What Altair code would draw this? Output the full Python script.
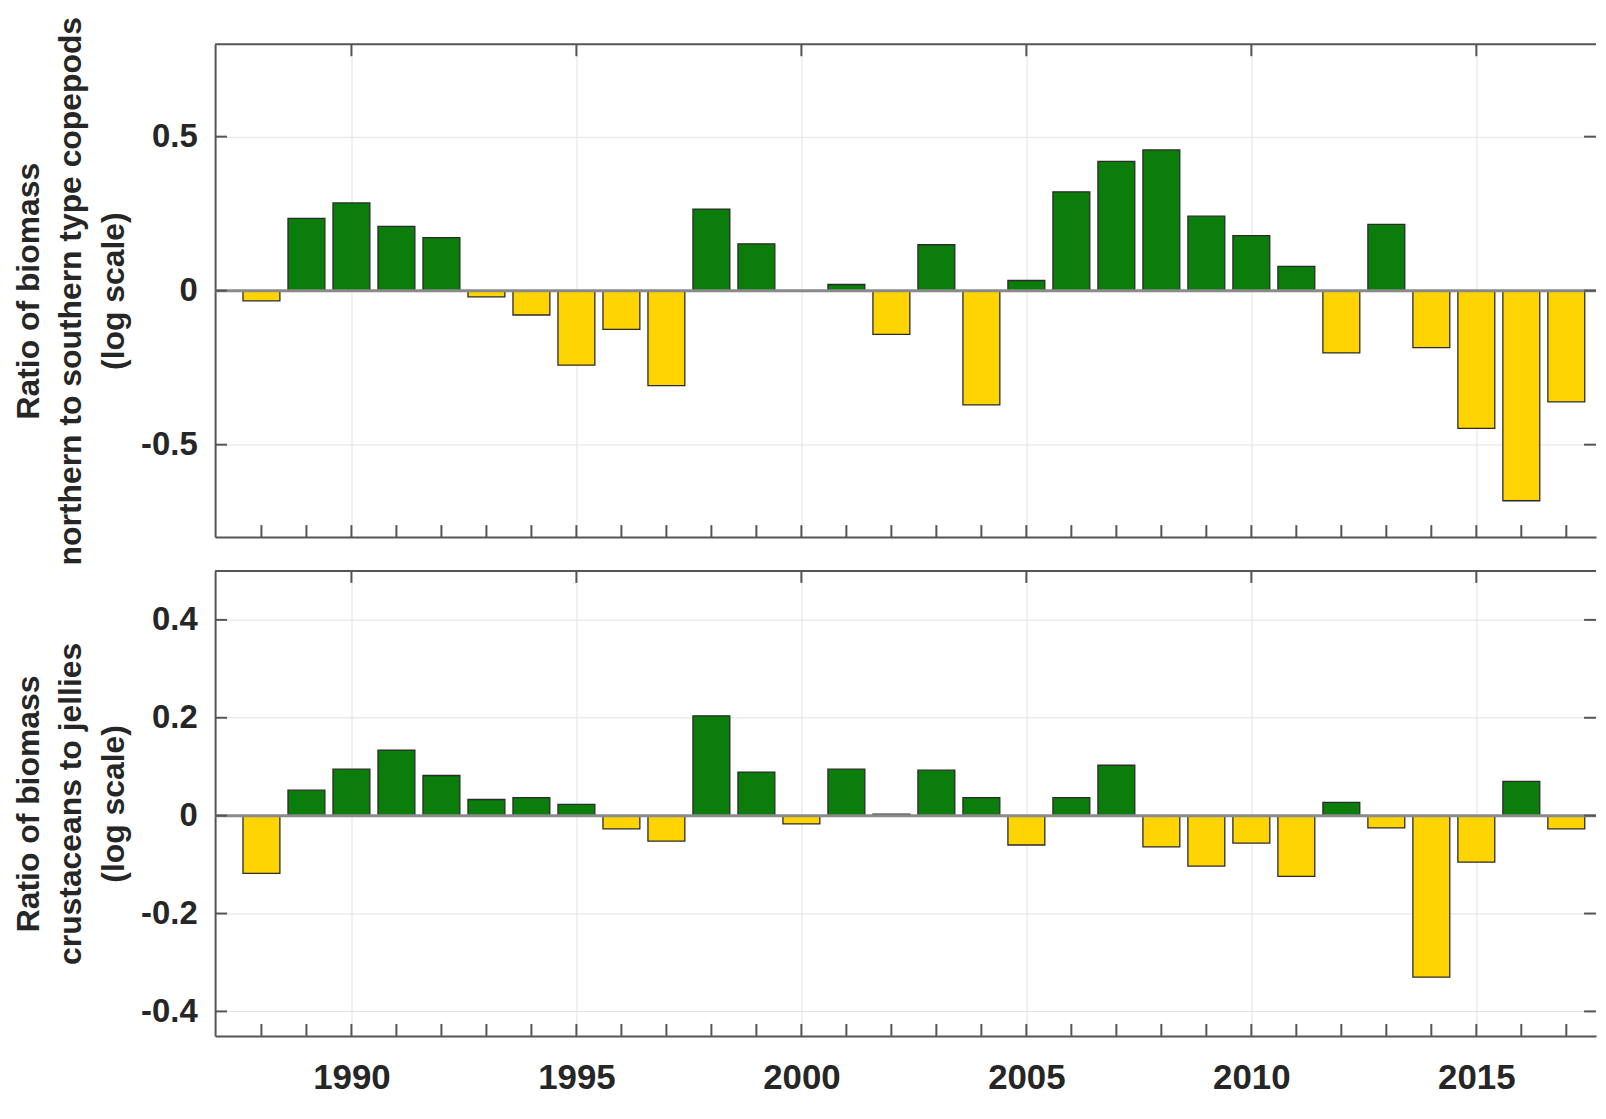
import altair as alt
import pandas as pd
import numpy as np

# ---------------- data ----------------
years = list(range(1988, 2018))
copepod_ratio = [-0.033, 0.235, 0.285, 0.209, 0.172, -0.020, -0.079, -0.242, -0.126, -0.308,
                 0.265, 0.152, None, 0.020, -0.142, 0.149, -0.371, 0.033, 0.321, 0.420,
                 0.457, 0.242, 0.179, 0.079, -0.202, 0.215, -0.185, -0.447, -0.682, -0.361]
jelly_ratio = [-0.118, 0.052, 0.095, 0.134, 0.082, 0.033, 0.037, 0.023, -0.027, -0.052,
               0.204, 0.089, -0.017, 0.095, 0.003, 0.093, 0.037, -0.060, 0.037, 0.103,
               -0.064, -0.103, -0.056, -0.124, 0.027, -0.025, -0.330, -0.095, 0.070, -0.027]
major_years = [1990, 1995, 2000, 2005, 2010, 2015]
top_ticks = [-0.5, 0, 0.5]
bottom_ticks = [-0.4, -0.2, 0, 0.2, 0.4]
top_title = ["Ratio of biomass", "northern to southern type copepods", "(log scale)"]
bottom_title = ["Ratio of biomass", "crustaceans to jellies", "(log scale)"]

GREEN = "#0a7d0a"
GOLD = "#ffd400"
AXC = "#555555"
FONT = "Liberation Sans"
W = 1387
X_DOMAIN = [1986.97, 2017.66]
TICK = 12


def panel(values, y_domain, y_ticks, height, title, show_labels):
    df = pd.DataFrame({"year": years, "value": values}).dropna()
    df["lo"] = df["year"] - 0.41
    df["hi"] = df["year"] + 0.41
    df["sign"] = np.where(df["value"] >= 0, "pos", "neg")

    xs = alt.Scale(domain=X_DOMAIN, nice=False, zero=False)
    ys = alt.Scale(domain=y_domain, nice=False, zero=False)

    x_axis = alt.Axis(values=major_years, grid=True, ticks=False, labels=show_labels,
                      labelFontSize=35, labelPadding=25, format="d", title=None,
                      domainColor=AXC, domainWidth=2)
    y_axis = alt.Axis(values=y_ticks, grid=True, ticks=False, labelFontSize=33,
                      labelPadding=18, labelExpr="toString(datum.value)",
                      title=title, titleFontSize=32, titleLineHeight=43,
                      titlePadding=10, domainColor=AXC, domainWidth=2)

    bars = alt.Chart(df).mark_bar(stroke="#2b2b2b", strokeWidth=1.3).encode(
        x=alt.X("lo:Q", scale=xs, axis=x_axis),
        x2="hi:Q",
        y=alt.Y("value:Q", scale=ys, axis=y_axis),
        y2=alt.datum(0),
        color=alt.Color("sign:N", scale=alt.Scale(domain=["pos", "neg"], range=[GREEN, GOLD]),
                        legend=None),
    )

    zero = alt.Chart(pd.DataFrame({"z": [0]})).mark_rule(color="#8a8a8a", strokeWidth=3).encode(
        y=alt.Y("z:Q", scale=ys, axis=y_axis)
    )

    minor = alt.Chart(pd.DataFrame({"t": years})).mark_rule(color=AXC, strokeWidth=2).encode(
        x=alt.X("t:Q", scale=xs, axis=x_axis),
        y=alt.value(height), y2=alt.value(height - TICK),
    )
    top_major = alt.Chart(pd.DataFrame({"t": major_years})).mark_rule(color=AXC, strokeWidth=2).encode(
        x=alt.X("t:Q", scale=xs, axis=x_axis),
        y=alt.value(0), y2=alt.value(TICK),
    )
    left_t = alt.Chart(pd.DataFrame({"v": y_ticks})).mark_rule(color=AXC, strokeWidth=2).encode(
        y=alt.Y("v:Q", scale=ys, axis=y_axis),
        x=alt.value(0), x2=alt.value(TICK),
    )
    right_t = alt.Chart(pd.DataFrame({"v": y_ticks})).mark_rule(color=AXC, strokeWidth=2).encode(
        y=alt.Y("v:Q", scale=ys, axis=y_axis),
        x=alt.value(W), x2=alt.value(W - TICK),
    )
    top_border = alt.Chart(pd.DataFrame({"b": [0]})).mark_rule(color=AXC, strokeWidth=2).encode(
        y=alt.value(0), x=alt.value(0), x2=alt.value(W),
    )

    return alt.layer(bars, zero, minor, top_major, left_t, right_t, top_border).properties(
        width=W, height=height
    )


top = panel(copepod_ratio, [-0.8, 0.8], top_ticks, 495, top_title, False)
bottom = panel(jelly_ratio, [-0.45, 0.5], bottom_ticks, 467, bottom_title, True)

chart = alt.vconcat(top, bottom, spacing=4).properties(
    padding={"top": 5, "left": 4, "right": 0, "bottom": 5}
).configure_view(stroke=None).configure_axis(
    labelFont=FONT, labelFontWeight="bold", labelColor="#262626",
    titleFont=FONT, titleFontWeight="bold", titleColor="#262626",
    gridColor="#e2e2e2", gridWidth=1,
)

chart.save("out.html", embed_options={"renderer": "svg", "actions": False})
